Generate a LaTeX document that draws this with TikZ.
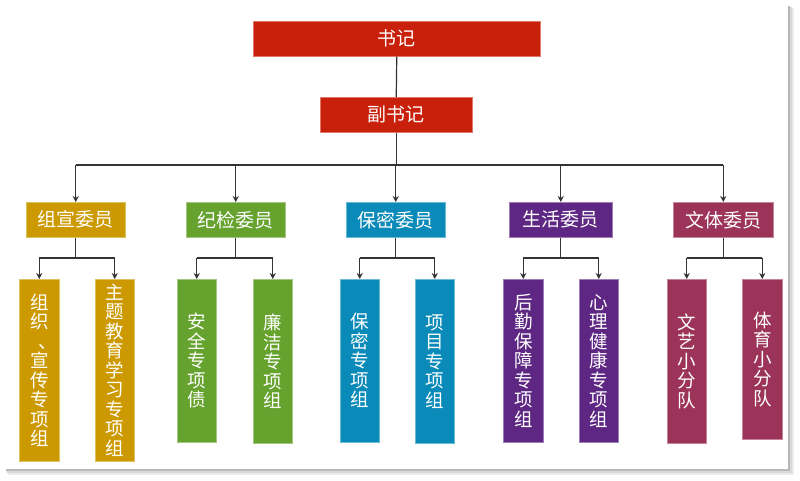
\documentclass[tikz,border=0pt]{standalone}
\usepackage{fontspec}
\setmainfont{Noto Sans CJK SC}
\usetikzlibrary{arrows.meta}
\definecolor{cred}{HTML}{C8200A}
\definecolor{cgold}{HTML}{CC9900}
\definecolor{cgreen}{HTML}{66A22E}
\definecolor{cblue}{HTML}{0A8AB8}
\definecolor{cpurple}{HTML}{5E2784}
\definecolor{cmaroon}{HTML}{9C3358}
\definecolor{cline}{HTML}{333333}
\tikzset{
  hbox/.style={fill=#1, draw=#1!60!white, line width=0.5pt, text=white, font=\fontsize{19}{19}\selectfont, inner sep=0pt, anchor=north west},
  vbox/.style={fill=#1, draw=#1!60!white, line width=0.5pt, text=white, font=\fontsize{18.5}{19.5}\selectfont, inner sep=0pt, anchor=north west, align=center},
  conn/.style={draw=cline, line width=1.2pt},
  arr/.style={conn, -{Stealth[length=6pt,width=6pt]}},
}
\begin{document}
\begin{tikzpicture}[x=1pt,y=-1pt]
\useasboundingbox (0,0) rectangle (800,480);
% page with shadow
\fill[black!8] (8,8) rectangle (794,475);
\fill[black!15] (7,7) rectangle (792,473);
\fill[black!28] (6,6) rectangle (790,471);
\fill[white] (4,4) rectangle (788,469);
% top
\node[hbox=cred, minimum width=287pt, minimum height=35pt] (sj) at (253,21) {书记};
\node[hbox=cred, minimum width=152pt, minimum height=35pt] (fsj) at (320,97) {副书记};
% committee
\node[hbox=cgold, minimum width=99pt, minimum height=35pt] (c1) at (26,202) {组宣委员};
\node[hbox=cgreen, minimum width=99pt, minimum height=35pt] (c2) at (186,202) {纪检委员};
\node[hbox=cblue, minimum width=99pt, minimum height=35pt] (c3) at (346,202) {保密委员};
\node[hbox=cpurple, minimum width=103pt, minimum height=35pt] (c4) at (509,202) {生活委员};
\node[hbox=cmaroon, minimum width=100pt, minimum height=35pt] (c5) at (673,202) {文体委员};
% leaves
\node[vbox=cgold, minimum width=40pt, minimum height=182pt] (l1) at (19,279) {组\\织\\\makebox[1em][l]{\hspace{0.45em}、}\\宣\\传\\专\\项\\组};
\node[vbox=cgold, minimum width=39pt, minimum height=182pt] (l2) at (95,279) {主\\题\\教\\育\\学\\习\\专\\项\\组};
\node[vbox=cgreen, minimum width=39pt, minimum height=163pt] (l3) at (177,279) {安\\全\\专\\项\\债};
\node[vbox=cgreen, minimum width=39pt, minimum height=164pt] (l4) at (253,279) {廉\\洁\\专\\项\\组};
\node[vbox=cblue, minimum width=39pt, minimum height=163pt] (l5) at (340,279) {保\\密\\专\\项\\组};
\node[vbox=cblue, minimum width=39pt, minimum height=164pt] (l6) at (415,279) {项\\目\\专\\项\\组};
\node[vbox=cpurple, minimum width=40pt, minimum height=163pt] (l7) at (503,279) {后\\勤\\保\\障\\专\\项\\组};
\node[vbox=cpurple, minimum width=39pt, minimum height=163pt] (l8) at (579,279) {心\\理\\健\\康\\专\\项\\组};
\node[vbox=cmaroon, minimum width=39pt, minimum height=164pt] (l9) at (667,279) {文\\艺\\小\\分\\队};
\node[vbox=cmaroon, minimum width=40pt, minimum height=160pt] (l10) at (742,279) {体\\育\\小\\分\\队};
% connectors
\draw[conn] (sj.south) -- (fsj.north);
\draw[conn] (fsj.south) -- (fsj.south |- 0,165);
\draw[conn] (c1.north |- 0,165) -- (c5.north |- 0,165);
\foreach \c in {c1,c2,c3,c4,c5} \draw[arr] (\c.north |- 0,165) -- (\c.north);
\foreach \c/\a/\b in {c1/l1/l2, c2/l3/l4, c3/l5/l6, c4/l7/l8, c5/l9/l10} {
  \draw[conn] (\c.south) -- (\c.south |- 0,258);
  \draw[conn] (\a.north |- 0,258) -- (\b.north |- 0,258);
  \draw[arr] (\a.north |- 0,258) -- (\a.north);
  \draw[arr] (\b.north |- 0,258) -- (\b.north);
}
\end{tikzpicture}
\end{document}
